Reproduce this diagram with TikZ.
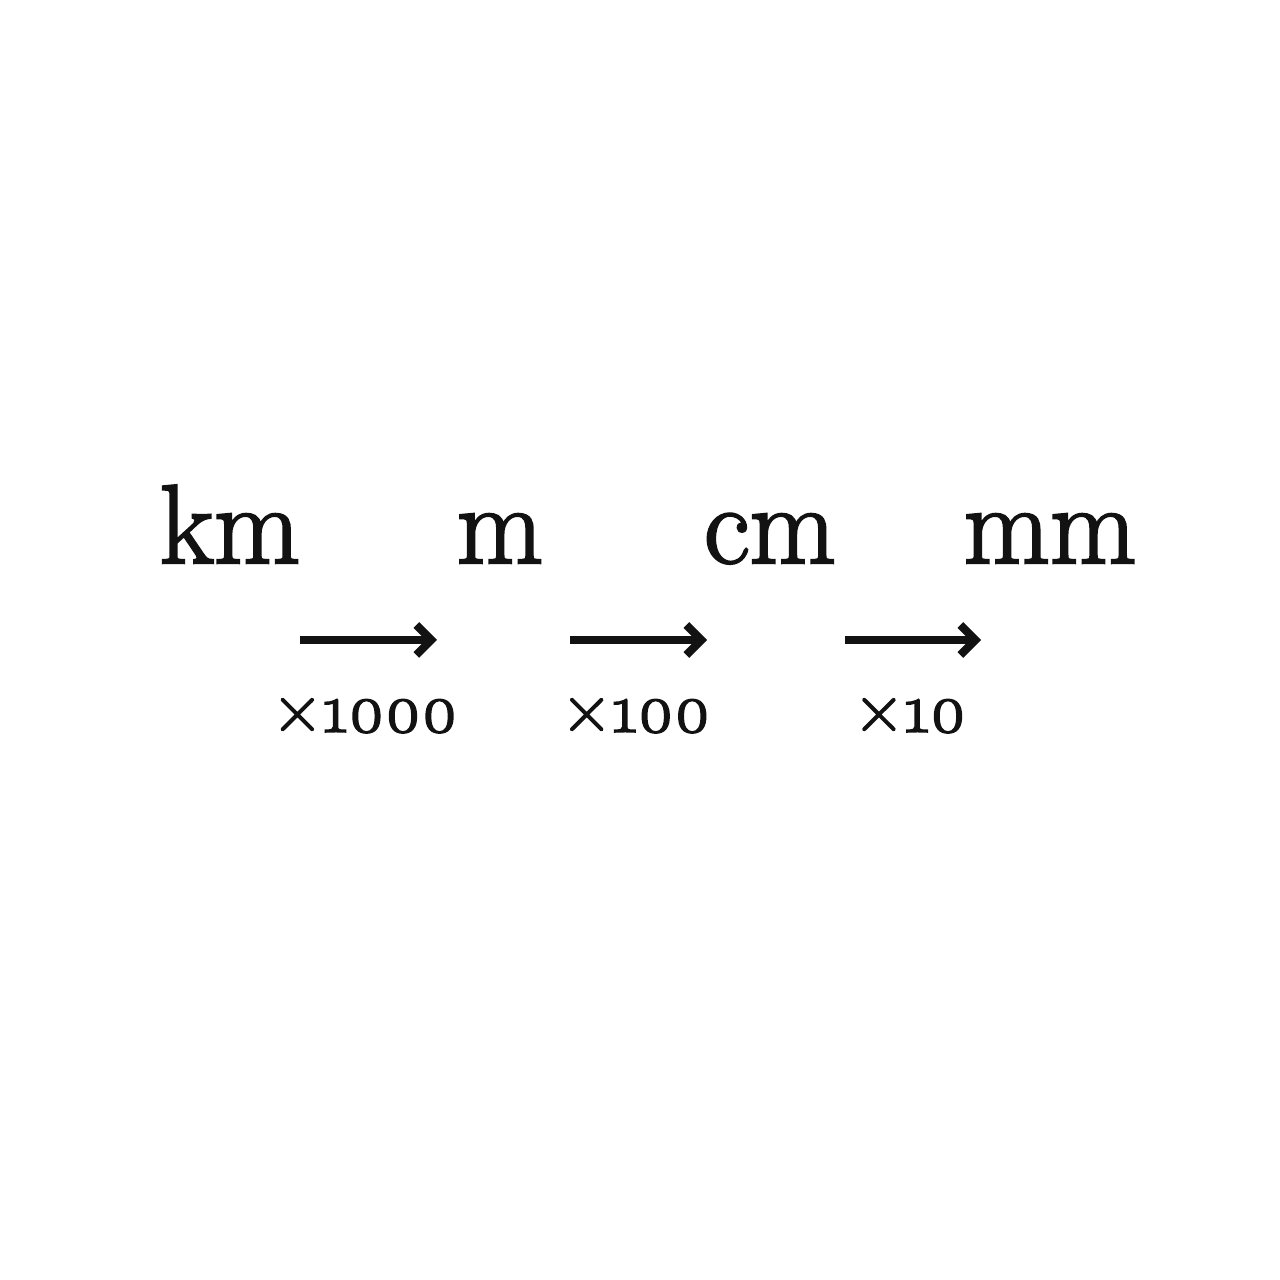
\documentclass[tikz,border=0pt]{standalone}
\usepackage{fontspec}
\newfontfamily\heavyfont{Latin Modern Roman}[FakeBold=2.2]
\usetikzlibrary{arrows.meta}
\begin{document}
\begin{tikzpicture}[x=1pt,y=1pt,
  unit/.style={inner sep=0pt,anchor=base,font=\heavyfont\fontsize{112}{120}\selectfont,text=black!93},
  factor/.style={inner sep=0pt,anchor=base,font=\heavyfont\fontsize{70}{76}\selectfont,text=black!93},
  conv/.style={line width=8pt,draw=black!93,-{Straight Barb[length=15pt,width=30pt]}}]
\useasboundingbox (0,0) rectangle (1280,1280);
\node[unit] (km) at (230,717) {km};
\node[unit] (m) at (500,717) {m};
\node[unit] (cm) at (770,717) {cm};
\node[unit] (mm) at (1050,717) {mm};
\coordinate (a1s) at (300,640);
\coordinate (a1e) at (437,640);
\coordinate (a2s) at (570,640);
\coordinate (a2e) at (707,640);
\coordinate (a3s) at (845,640);
\coordinate (a3e) at (981,640);
\draw[conv] (a1s) -- (a1e);
\draw[conv] (a2s) -- (a2e);
\draw[conv] (a3s) -- (a3e);
\node[factor] (f1) at (365,548) {×\oldstylenums{1000}};
\node[factor] (f2) at (636,548) {×\oldstylenums{100}};
\node[factor] (f3) at (910,548) {×\oldstylenums{10}};
\end{tikzpicture}
\end{document}
